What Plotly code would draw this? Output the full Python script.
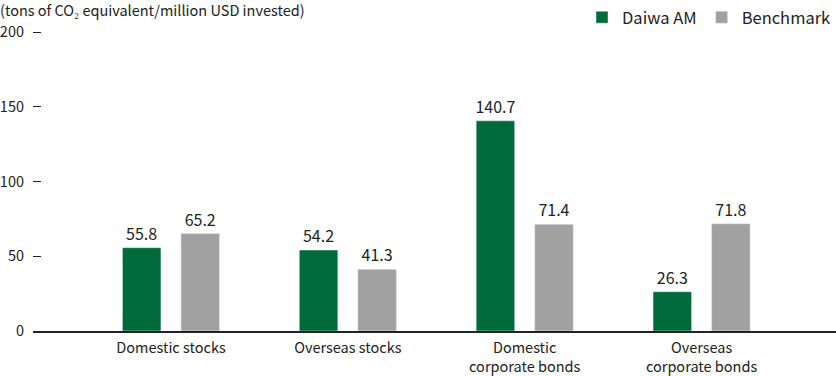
import plotly.graph_objects as go

categories = ["Domestic stocks", "Overseas stocks", "Domestic<br>corporate bonds", "Overseas<br>corporate bonds"]
daiwa = [55.8, 54.2, 140.7, 26.3]
benchmark = [65.2, 41.3, 71.4, 71.8]
y_ticks = [0, 50, 100, 150, 200]
unit_label = "(tons of CO₂ equivalent/million USD invested)"

FONT = "Noto Sans CJK JP"
xpos = list(range(len(categories)))

fig = go.Figure()
fig.add_trace(go.Bar(x=xpos, y=daiwa, name="Daiwa AM", marker_color="#006B3A",
                     text=[f"{v:.1f}" for v in daiwa], textposition="outside",
                     constraintext="none",
                     textfont=dict(size=16, color="#222"), cliponaxis=False))
fig.add_trace(go.Bar(x=xpos, y=benchmark, name="Benchmark", marker_color="#A0A1A0",
                     text=[f"{v:.1f}" for v in benchmark], textposition="outside",
                     constraintext="none",
                     textfont=dict(size=16, color="#222"), cliponaxis=False))

fig.update_layout(
    width=836, height=376,
    margin=dict(l=33, r=0, t=30, b=45, autoexpand=False),
    paper_bgcolor="white", plot_bgcolor="white",
    font=dict(family=FONT, size=14.5, color="#222"),
    barmode="group", bargap=0.338, bargroupgap=0.342,
    title=dict(text=unit_label, x=0, xref="container", xanchor="left",
               y=1 - 11 / 376, yref="container", yanchor="middle",
               font=dict(size=14.5, color="#222")),
    legend=dict(orientation="h", x=1, xref="container", xanchor="right",
                y=1, yref="container", yanchor="top",
                font=dict(size=16.5, color="#222"), itemwidth=30,
                traceorder="normal"),
    showlegend=True,
)
fig.update_xaxes(tickmode="array", tickvals=xpos, ticktext=categories,
                 range=[-0.78, 3.76], showline=True, linecolor="#222", linewidth=1.5,
                 ticks="", showgrid=False, zeroline=False, ticklabelstandoff=3,
                 tickfont=dict(size=14.5, color="#222"))
fig.update_yaxes(range=[0, 201.5], tickmode="array", tickvals=y_ticks,
                 ticks="inside", ticklen=8, tickcolor="#222", tickwidth=1,
                 showline=False, showgrid=False, zeroline=False,
                 ticklabelstandoff=8, tickfont=dict(size=14.5, color="#222"))

fig.write_html("out.html", config={"displayModeBar": False},
               post_script="document.body.style.margin='0';")
